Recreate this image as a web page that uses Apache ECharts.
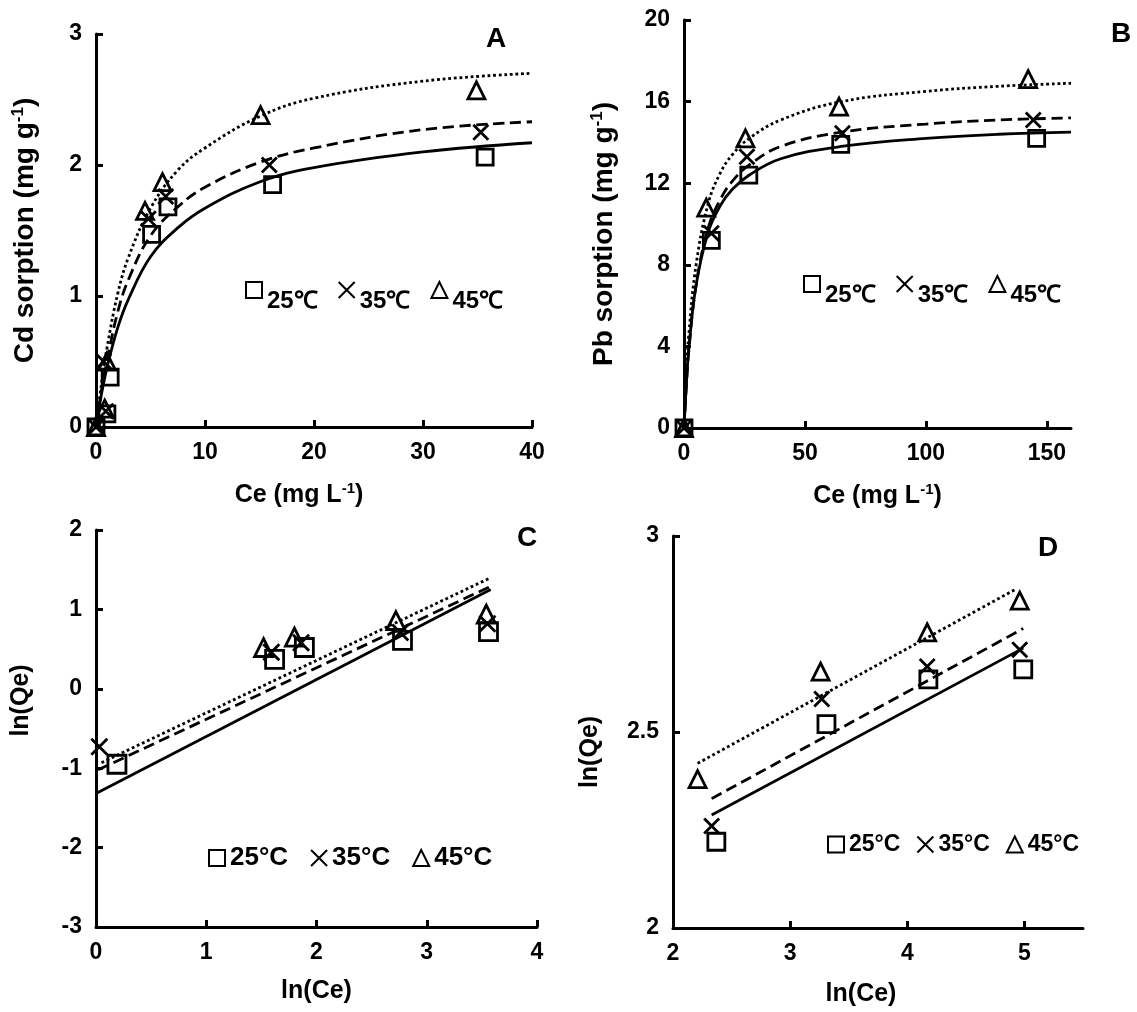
<!DOCTYPE html>
<html>
<head>
<meta charset="utf-8">
<title>Cd and Pb sorption isotherms</title>
<script src="https://cdn.jsdelivr.net/npm/echarts@6/dist/echarts.min.js"></script>
<style>
  html, body { margin: 0; padding: 0; background: #fff; }
  #chart { width: 1137px; height: 1012px; }
</style>
</head>
<body>
<div id="chart"></div>
<script>
// ---------- data ----------
// A: Cd sorption (mg/g) vs Ce (mg/L)
const cdCe25 = [0, 1.0, 1.3, 5.1, 6.6, 16.2, 35.7];
const cdQ25  = [0, 0.10, 0.38, 1.47, 1.68, 1.85, 2.06];
const cdCe35 = [0, 0.9, 0.7, 4.8, 6.4, 15.9, 35.3];
const cdQ35  = [0, 0.12, 0.50, 1.59, 1.76, 2.00, 2.25];
const cdCe45 = [0, 0.8, 1.0, 4.5, 6.1, 15.1, 34.9];
const cdQ45  = [0, 0.14, 0.50, 1.65, 1.87, 2.38, 2.57];
// fitted curves (A)
const cdFitCe = [0, 0.5, 1, 2, 3, 5, 7.5, 10, 15, 20, 30, 40];
const cdFit25 = [0, 0.25, 0.45, 0.76, 0.98, 1.30, 1.52, 1.67, 1.87, 1.98, 2.10, 2.17];
const cdFit35 = [0, 0.28, 0.50, 0.88, 1.13, 1.46, 1.68, 1.83, 2.02, 2.13, 2.27, 2.33];
const cdFit45 = [0, 0.33, 0.60, 1.02, 1.30, 1.67, 1.96, 2.13, 2.37, 2.51, 2.64, 2.70];

// B: Pb sorption (mg/g) vs Ce (mg/L)
const pbCe25 = [0, 11.3, 26.8, 64.8, 145.8];
const pbQ25  = [0, 9.2, 12.4, 13.9, 14.2];
const pbCe35 = [0, 11.3, 26.0, 65.5, 144.4];
const pbQ35  = [0, 9.55, 13.3, 14.45, 15.1];
const pbCe45 = [0, 9.2, 25.4, 64.1, 142.3];
const pbQ45  = [0, 10.8, 14.2, 15.75, 17.1];
// fitted curves (B)
const pbFitCe = [0, 1, 2, 5, 10, 15, 20, 27, 40, 65, 100, 130, 160];
const pbFit25 = [0, 2.2, 3.9, 7.0, 9.6, 10.9, 11.7, 12.4, 13.2, 13.8, 14.2, 14.4, 14.5];
const pbFit35 = [0, 2.1, 3.8, 7.0, 9.8, 11.2, 12.1, 12.9, 13.8, 14.5, 14.9, 15.1, 15.2];
const pbFit45 = [0, 2.6, 4.6, 8.0, 11.0, 12.5, 13.4, 14.2, 15.1, 16.0, 16.5, 16.75, 16.9];

// C: ln(Qe) vs ln(Ce), Cd
const cLnCe25 = [0.19, 1.62, 1.89, 2.78, 3.56];
const cLnQe25 = [-0.95, 0.37, 0.52, 0.61, 0.72];
const cLnCe35 = [0.03, 1.59, 1.86, 2.76, 3.55];
const cLnQe35 = [-0.73, 0.46, 0.58, 0.71, 0.82];
const cLnCe45 = [1.52, 1.80, 2.72, 3.54];
const cLnQe45 = [0.52, 0.65, 0.86, 0.94];
const cFitX25 = [0, 3.58],    cFitY25 = [-1.32, 1.25];
const cFitX35 = [0.02, 3.58], cFitY35 = [-1.02, 1.29];
const cFitX45 = [0.05, 3.58], cFitY45 = [-0.93, 1.40];

// D: ln(Qe) vs ln(Ce), Pb
const dLnCe25 = [2.37, 3.31, 4.18, 4.99];
const dLnQe25 = [2.22, 2.52, 2.634, 2.66];
const dLnCe35 = [2.33, 3.27, 4.17, 4.96];
const dLnQe35 = [2.26, 2.584, 2.667, 2.71];
const dLnCe45 = [2.21, 3.26, 4.17, 4.96];
const dLnQe45 = [2.38, 2.654, 2.754, 2.835];
const dFitX25 = [2.33, 4.99], dFitY25 = [2.288, 2.714];
const dFitX35 = [2.33, 4.99], dFitY35 = [2.33, 2.764];
const dFitX45 = [2.21, 4.93], dFitY45 = [2.42, 2.865];

const tempsA = ['25℃', '35℃', '45℃'];
const tempsC = ['25°C', '35°C', '45°C'];

// ---------- chart ----------
const FONT = '"Liberation Sans", Arial, sans-serif';
const crossPath = 'path://M0,0L10,10M10,0L0,10';
const symbols = ['rect', crossPath, 'triangle'];
const lineTypes = ['solid', 'dashed', 'dotted'];

function pairs(xs, ys) {
  return xs.map((x, i) => [x, ys[i]]);
}

function axis(gridIndex, opt) {
  const nameSize = opt.nameSize || 25;
  return {
    type: 'value',
    gridIndex: gridIndex,
    min: opt.min,
    max: opt.max,
    interval: opt.interval,
    name: opt.name,
    nameLocation: 'middle',
    nameGap: opt.nameGap,
    nameTextStyle: {
      color: '#000', fontSize: nameSize, fontWeight: 'bold', fontFamily: FONT,
      padding: opt.namePad || 0,
      rich: { sup: { fontSize: Math.round(nameSize * 0.6), fontWeight: 'bold', color: '#000', fontFamily: FONT, padding: [0, 0, 14, 0] } }
    },
    axisLine: { show: true, onZero: false, lineStyle: { color: '#000', width: 3 } },
    axisTick: {
      show: true, inside: true, length: 7,
      customValues: opt.ticks,
      lineStyle: { color: '#000', width: 3 }
    },
    splitLine: { show: false },
    axisLabel: {
      color: '#000', fontSize: 23, fontWeight: 'bold', fontFamily: FONT,
      margin: opt.labelMargin || 14,
      customValues: opt.ticks
    }
  };
}

function scatter(name, gi, data, k, size) {
  return {
    type: 'scatter',
    name: name,
    xAxisIndex: gi,
    yAxisIndex: gi,
    symbol: symbols[k],
    symbolSize: size,
    itemStyle: { color: 'transparent', borderColor: '#000', borderWidth: 2.8, opacity: 1 },
    data: data,
    z: 3
  };
}

function fit(gi, data, k, smooth) {
  return {
    type: 'line',
    name: 'fit' + gi + '-' + k,
    xAxisIndex: gi,
    yAxisIndex: gi,
    showSymbol: false,
    smooth: smooth,
    lineStyle: { color: '#000', width: 2.8, type: lineTypes[k] },
    data: data,
    z: 2
  };
}

// raise > 0 pushes the label text below the marker (panels A and B)
function legend(names, left, top, fontSize, raise, gap) {
  return {
    data: names,
    left: left,
    top: top,
    itemWidth: 16,
    itemHeight: 16,
    itemGap: gap,
    selectedMode: false,
    formatter: name => '{t|' + name + '}',
    textStyle: {
      color: '#000', fontSize: fontSize, fontWeight: 'bold', fontFamily: FONT,
      rich: {
        t: { color: '#000', fontSize: fontSize, fontWeight: 'bold', fontFamily: FONT, padding: [raise, 0, 0, 0] }
      }
    }
  };
}

const chart = echarts.init(document.getElementById('chart'));

const option = {
  backgroundColor: '#fff',
  animation: false,
  grid: [
    { left: 96, top: 34, width: 436, height: 393 },
    { left: 684, top: 20, width: 387, height: 408 },
    { left: 96, top: 530, width: 441, height: 397 },
    { left: 673, top: 536, width: 410, height: 392 }
  ],
  title: [
    { text: 'A', left: 481, top: 20, textStyle: { fontSize: 28, fontWeight: 'bold', fontFamily: FONT, color: '#000' } },
    { text: 'B', left: 1106, top: 15, textStyle: { fontSize: 28, fontWeight: 'bold', fontFamily: FONT, color: '#000' } },
    { text: 'C', left: 512, top: 519, textStyle: { fontSize: 28, fontWeight: 'bold', fontFamily: FONT, color: '#000' } },
    { text: 'D', left: 1033, top: 529, textStyle: { fontSize: 28, fontWeight: 'bold', fontFamily: FONT, color: '#000' } }
  ],
  xAxis: [
    axis(0, { min: 0, max: 40, interval: 10, name: 'Ce (mg L{sup|-1})', nameGap: 54, namePad: [0, 30, 0, 0] }),
    axis(1, { min: 0, max: 160, interval: 10, ticks: [0, 50, 100, 150], name: 'Ce (mg L{sup|-1})', nameGap: 54 }),
    axis(2, { min: 0, max: 4, interval: 1, name: 'ln(Ce)', nameGap: 52 }),
    axis(3, { min: 2, max: 5.5, interval: 0.5, ticks: [2, 3, 4, 5], name: 'ln(Ce)', nameGap: 54, namePad: [0, 34, 0, 0] })
  ],
  yAxis: [
    axis(0, { min: 0, max: 3, interval: 1, name: 'Cd sorption (mg g{sup|-1})', nameGap: 55, nameSize: 28 }),
    axis(1, { min: 0, max: 20, interval: 4, name: 'Pb sorption (mg g{sup|-1})', nameGap: 64, nameSize: 28, namePad: [0, 20, 0, 0] }),
    axis(2, { min: -3, max: 2, interval: 1, name: 'ln(Qe)', nameGap: 62, namePad: [0, 0, 0, 56] }),
    axis(3, { min: 2, max: 3, interval: 0.5, name: 'ln(Qe)', nameGap: 70, namePad: [0, 40, 0, 0] })
  ],
  legend: [
    legend(tempsA, 240, 276, 24, 22, 20),
    legend(tempsA, 798, 270, 24, 22, 20),
    legend(tempsC, 203, 840, 26, 0, 22),
    legend(tempsC, 822, 828, 23, 0, 16)
  ],
  series: [
    // A
    scatter(tempsA[0], 0, pairs(cdCe25, cdQ25), 0, 16),
    scatter(tempsA[1], 0, pairs(cdCe35, cdQ35), 1, 15),
    scatter(tempsA[2], 0, pairs(cdCe45, cdQ45), 2, 17),
    fit(0, pairs(cdFitCe, cdFit25), 0, 0.4),
    fit(0, pairs(cdFitCe, cdFit35), 1, 0.4),
    fit(0, pairs(cdFitCe, cdFit45), 2, 0.4),
    // B
    scatter(tempsA[0], 1, pairs(pbCe25, pbQ25), 0, 16),
    scatter(tempsA[1], 1, pairs(pbCe35, pbQ35), 1, 15),
    scatter(tempsA[2], 1, pairs(pbCe45, pbQ45), 2, 17),
    fit(1, pairs(pbFitCe, pbFit25), 0, 0.4),
    fit(1, pairs(pbFitCe, pbFit35), 1, 0.4),
    fit(1, pairs(pbFitCe, pbFit45), 2, 0.4),
    // C
    scatter(tempsC[0], 2, pairs(cLnCe25, cLnQe25), 0, 18),
    scatter(tempsC[1], 2, pairs(cLnCe35, cLnQe35), 1, 16),
    scatter(tempsC[2], 2, pairs(cLnCe45, cLnQe45), 2, 18),
    fit(2, pairs(cFitX25, cFitY25), 0, false),
    fit(2, pairs(cFitX35, cFitY35), 1, false),
    fit(2, pairs(cFitX45, cFitY45), 2, false),
    // D
    scatter(tempsC[0], 3, pairs(dLnCe25, dLnQe25), 0, 17),
    scatter(tempsC[1], 3, pairs(dLnCe35, dLnQe35), 1, 15),
    scatter(tempsC[2], 3, pairs(dLnCe45, dLnQe45), 2, 17),
    fit(3, pairs(dFitX25, dFitY25), 0, false),
    fit(3, pairs(dFitX35, dFitY35), 1, false),
    fit(3, pairs(dFitX45, dFitY45), 2, false)
  ]
};

chart.setOption(option);
</script>
</body>
</html>
